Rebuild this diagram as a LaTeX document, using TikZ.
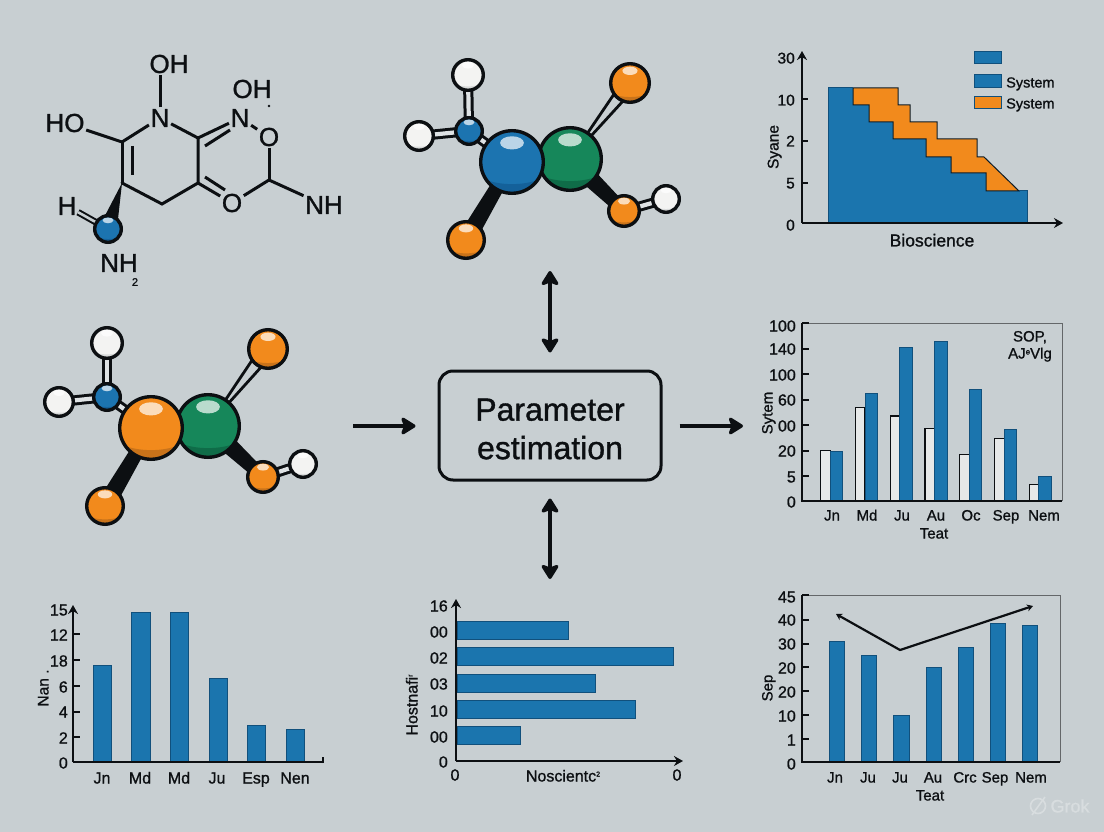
\documentclass[tikz,border=0pt]{standalone}
\usepackage{fontspec}
\setmainfont[RawFeature={embolden=1.1}]{Liberation Sans}
\usetikzlibrary{arrows.meta,calc}

\definecolor{bgcol}{HTML}{C8CFD2}
\definecolor{barblue}{HTML}{1B75AE}
\definecolor{barline}{HTML}{11507C}
\definecolor{ink}{HTML}{0C0F12}
\definecolor{ballblue}{HTML}{1C74B0}
\definecolor{ballblued}{HTML}{14619A}
\definecolor{ballorange}{HTML}{F28A1C}
\definecolor{ballorangd}{HTML}{C9731A}
\definecolor{ballgreen}{HTML}{16875A}
\definecolor{ballgreend}{HTML}{0F6C48}
\definecolor{ballwhite}{HTML}{F3F3F2}
\definecolor{ballwhited}{HTML}{D9DBDB}

\tikzset{
  atomtxt/.style={font=\fontsize{26}{28}\selectfont,text=ink,inner sep=1.5pt},
  bond/.style={draw=ink,line width=3pt},
  dbond/.style={draw=ink,line width=3pt,double=bgcol!60!white,double distance=4.2pt},
  ticklbl/.style={font=\fontsize{15.5}{17}\selectfont,text=ink,inner sep=0pt,text height=11pt,text depth=0pt},
  axislbl/.style={font=\fontsize{15.5}{17}\selectfont,text=ink,inner sep=0pt,text height=11pt,text depth=0pt},
  axisline/.style={draw=ink,line width=2.5pt},
  axisarrow/.style={draw=ink,line width=2.5pt,-{Stealth[length=9pt,width=10pt]}},
  framegrey/.style={draw=black!50!bgcol,line width=0.8pt},
  barfill/.style={fill=barblue,draw=barline,line width=1pt},
  flow/.style={draw=ink,line width=3.6pt,-{Stealth[length=17pt,width=21pt,inset=4pt,round]}},
  flowboth/.style={draw=ink,line width=3.6pt,{Stealth[length=17pt,width=21pt,inset=4pt,round]}-{Stealth[length=17pt,width=21pt,inset=4pt,round]}}
}

% atom: name, x, y, outer radius, colour, dark colour
\newcommand{\atom}[6]{
  \begin{scope}
    \clip (#2,#3) circle[radius=#4-1];
    \fill[#5] (#2,#3) circle[radius=#4];
    \fill[#6] (#2-1.2*#4,#3+0.15*#4) arc[start angle=180,end angle=0,x radius=1.2*#4,y radius=0.52*#4]
      -- (#2+1.2*#4,#3+1.2*#4) -- (#2-1.2*#4,#3+1.2*#4) -- cycle;
    \fill[white,opacity=0.7] (#2,#3-0.58*#4) ellipse[x radius=0.36*#4,y radius=0.2*#4];
  \end{scope}
  \node[circle,draw=ink,line width=3.4pt,minimum size=2*#4 pt-3.4pt,inner sep=0pt] (#1) at (#2,#3) {};
}
% thick bond: start, end, half width at start, half width at end
\newcommand{\wedgebond}[4]{
  \fill[ink] ($(#1)!#3!90:(#2)$) -- ($(#2)!#4!-90:(#1)$) -- ($(#2)!#4!90:(#1)$) -- ($(#1)!#3!-90:(#2)$) -- cycle;
}
% open bond that spreads out towards its end
\newcommand{\spreadbond}[3]{
  \filldraw[fill=bgcol,draw=ink,line width=2.8pt] (#1) -- ($(#2)!#3!-90:(#1)$) -- ($(#2)!#3!90:(#1)$) -- cycle;
}

\begin{document}
\begin{tikzpicture}[x=1pt,y=-1pt]
  \fill[bgcol] (0,0) rectangle (1104,832); %Background
  \useasboundingbox (0,0) rectangle (1104,832);

  % drawn formula, top left
  \node[atomtxt] (oha) at (169,64) {OH};
  \node[atomtxt] (na) at (160,118) {N};
  \node[atomtxt] (hoa) at (65,123) {HO};
  \node[atomtxt] (ohb) at (252,89) {OH};
  \node[atomtxt] (nb) at (240,118) {N};
  \node[atomtxt] (oa) at (269,137) {O};
  \node[atomtxt] (ob) at (232,203) {O};
  \node[atomtxt] (nh) at (324,205) {NH};
  \node[atomtxt] (ha) at (67,206) {H};
  \node[atomtxt] (nhb) at (119,263) {NH};
  \node[font=\fontsize{11}{12}\selectfont,text=ink,inner sep=0pt] (nhsub) at (135,282) {2};
  \coordinate (ca) at (122,142);
  \coordinate (cb) at (122,183);
  \coordinate (cc) at (162,204);
  \coordinate (cd) at (198,183);
  \coordinate (ce) at (198,138);
  \coordinate (cf) at (269,180);
  \coordinate (ballc) at (108,229);
  \draw[bond] (na.north) -- (na.north |- oha.south);
  \draw[bond] (hoa) -- (ca);
  \draw[bond] (na) -- (ca);
  \draw[bond] (na) -- (ce);
  \draw[bond,line cap=round] (ca) -- (cb);
  \draw[bond] (132,146) -- (132,175); %Inner line of ring double bond
  \draw[bond,line cap=round] (cb) -- (cc) -- (cd) -- (ce);
  \draw[bond] (ce) -- (nb);
  \draw[bond] (205,146) -- (230,130); %Inner line of N double bond
  \draw[bond] (cd) -- (ob);
  \draw[bond] (205,177) -- (225,190); %Inner line of O double bond
  \draw[bond] (ob) -- (cf);
  \draw[bond] (oa) -- (cf);
  \draw[bond] (cf) -- (nh);
  \draw[bond] (nb) -- (oa);
  \fill[ink] (269,106) circle[radius=1.3]; %Stray mark under OH
  \wedgebond{cb}{ballc}{0pt}{9pt}
  \draw[draw=ink,line width=2pt,double=bgcol,double distance=2.6pt] (ha) -- (ballc);
  \atom{ballf}{108}{229}{15}{ballblue}{ballblued}

  % ball model, top centre
  \coordinate (tmw) at (468,75);
  \coordinate (tlw) at (419,136);
  \coordinate (tsb) at (469,131);
  \coordinate (tbb) at (512,162);
  \coordinate (tbg) at (570,159);
  \coordinate (tor) at (630,83);
  \coordinate (tol) at (466,240);
  \coordinate (tob) at (624,211);
  \coordinate (twb) at (666,199);
  \draw[dbond] (tmw) -- (tsb);
  \draw[dbond] (tlw) -- (tsb);
  \draw[dbond] (tsb) -- (tbb);
  \spreadbond{tbg}{tor}{7pt}
  \draw[dbond] (tob) -- (twb);
  \wedgebond{tbb}{tol}{6pt}{9pt}
  \wedgebond{tbg}{tob}{10pt}{6pt}
  \atom{tmwb}{468}{75}{17}{ballwhite}{ballwhited}
  \atom{tlwb}{419}{136}{16}{ballwhite}{ballwhited}
  \atom{tsbb}{469}{131}{15}{ballblue}{ballblued}
  \atom{torb}{630}{83}{21}{ballorange}{ballorangd}
  \atom{tolb}{466}{240}{20}{ballorange}{ballorangd}
  \atom{twbb}{666}{199}{15}{ballwhite}{ballwhited}
  \atom{tobb}{624}{211}{17}{ballorange}{ballorangd}
  \atom{tbgb}{570}{159}{33}{ballgreen}{ballgreend}
  \atom{tbbb}{512}{162}{33}{ballblue}{ballblued}

  % ball model, middle left
  \coordinate (mmw) at (107,343);
  \coordinate (mlw) at (59,402);
  \coordinate (msb) at (107,397);
  \coordinate (mbo) at (151,428);
  \coordinate (mbg) at (208,426);
  \coordinate (mor) at (268,349);
  \coordinate (mol) at (105,506);
  \coordinate (mob) at (263,477);
  \coordinate (mwb) at (303,464);
  \draw[dbond] (mmw) -- (msb);
  \draw[dbond] (mlw) -- (msb);
  \draw[dbond] (msb) -- (mbo);
  \spreadbond{mbg}{mor}{7pt}
  \draw[dbond] (mob) -- (mwb);
  \wedgebond{mbo}{mol}{6pt}{9pt}
  \wedgebond{mbg}{mob}{10pt}{6pt}
  \atom{mmwb}{107}{343}{17}{ballwhite}{ballwhited}
  \atom{mlwb}{59}{402}{16}{ballwhite}{ballwhited}
  \atom{msbb}{107}{397}{15}{ballblue}{ballblued}
  \atom{morb}{268}{349}{21}{ballorange}{ballorangd}
  \atom{molb}{105}{506}{20}{ballorange}{ballorangd}
  \atom{mwbb}{303}{464}{15}{ballwhite}{ballwhited}
  \atom{mobb}{263}{477}{17}{ballorange}{ballorangd}
  \atom{mbgb}{208}{426}{33}{ballgreen}{ballgreend}
  \atom{mbob}{151}{428}{33}{ballorange}{ballorangd}

  % centre box and arrows
  \node[draw=ink,line width=3pt,rounded corners=14pt,minimum width=222pt,minimum height=109pt,inner sep=0pt] (param) at (550,425.5) {};
  \node[align=center,font=\fontsize{32}{38.5}\selectfont,text=ink,inner sep=0pt] (paramtxt) at (550,429) {Parameter\\estimation};
  \coordinate (leftend) at (353,426);
  \coordinate (rightend) at (743,426);
  \coordinate (upend) at (550,271);
  \coordinate (downend) at (550,579);
  \draw[flow,shorten >=22pt] (leftend) -- (param.west |- leftend);
  \draw[flow,shorten <=17pt] (param.east |- rightend) -- (rightend);
  \draw[flowboth,shorten >=17pt] (upend) -- (param.north);
  \draw[flowboth,shorten >=17pt] (downend) -- (param.south);

  % stepped area chart, top right
  \fill[barblue] (828,88) -- (853,88) -- (853,105) -- (869,105) -- (869,122) -- (893,122) -- (893,139) -- (926,139) -- (926,157) -- (951,157) -- (951,173) -- (986,173) -- (986,191) -- (1027,191) -- (1027,223) -- (828,223) -- cycle;
  \filldraw[fill=ballorange,draw=ink!80!barline,line width=1pt] (853,88) -- (898,88) -- (898,105) -- (910,105) -- (910,122) -- (937,122) -- (937,139) -- (977,139) -- (977,157) -- (984,157) -- (1019,191) -- (986,191) -- (986,173) -- (951,173) -- (951,157) -- (926,157) -- (926,139) -- (893,139) -- (893,122) -- (869,122) -- (869,105) -- (853,105) -- cycle;
  \draw[barline,line width=1pt] (828,223) -- (828,88) -- (853,88);
  \draw[barline,line width=1pt] (1019,191) -- (1027,191) -- (1027,223);
  \coordinate (tro) at (802,223);
  \coordinate (try) at (802,51);
  \coordinate (trx) at (1063,223);
  \draw[axisarrow] (tro) -- (try);
  \draw[axisarrow] (tro) -- (trx);
  \foreach \tname/\ty/\tlab in {tra/58/30,trb/100/10,trc/141/2,trd/183/5,tre/225/0}
    \node[ticklbl,anchor=east] (\tname) at (795,\ty) {\tlab};
  \foreach \ty in {99,141,183}
    \draw[axisline] (802,\ty) -- (808,\ty);
  \node[axislbl,font=\fontsize{17.5}{19}\selectfont] (trxlab) at (932,241) {Bioscience};
  \node[axislbl,rotate=90] (trylab) at (773,147) {Syane};
  \filldraw[fill=barblue,draw=barline,line width=1pt] (974,52) rectangle (1001,64);
  \filldraw[fill=barblue,draw=barline,line width=1pt] (974,75) rectangle (1001,88);
  \filldraw[fill=ballorange,draw=barline,line width=1pt] (974,97) rectangle (1001,109);
  \node[axislbl,anchor=west,font=\fontsize{14.5}{16}\selectfont] (legb) at (1006,82) {System};
  \node[axislbl,anchor=west,font=\fontsize{14.5}{16}\selectfont] (legc) at (1006,103) {System};

  % paired bars, middle right
  \draw[framegrey] (802,323) -- (1062,323) -- (1062,501);
  \foreach \bx/\wtop/\btop in {820.7/450.7/451,855.5/407.7/393.7,890.3/416/347,925/428.7/341.7,959.8/454.7/389,994.6/438.7/429.3,1029.4/484.7/476.7}{
    \filldraw[fill=ballwhite!70!bgcol,draw=ink,line width=1.1pt] (\bx,501) rectangle (\bx+9.5,\wtop);
    \filldraw[barfill] (\bx+9.5,501) rectangle (\bx+22,\btop);
  }
  \coordinate (mro) at (802,501);
  \coordinate (mry) at (802,323);
  \coordinate (mrx) at (1062,501);
  \draw[axisline] (mry) -- (mro) -- (mrx);
  \foreach \mname/\my/\mlab in {mra/326/100,mrb/349/140,mrc/375/100,mrd/400/60,mre/426/00,mrf/451/20,mrg/477/5,mrh/502/0}
    \node[ticklbl,anchor=east,font=\fontsize{16}{17}\selectfont] (\mname) at (796,\my) {\mlab};
  \foreach \my in {323,349,374,400,425,451,476}
    \draw[axisline] (802,\my) -- (809,\my);
  \foreach \mname/\mx/\mlab in {mja/832/Jn,mjb/867/Md,mjc/902/Ju,mjd/936/Au,mje/971/Oc,mjf/1006/Sep,mjg/1044/Nem}
    \node[axislbl,font=\fontsize{15}{17}\selectfont] (\mname) at (\mx,515) {\mlab};
  \node[axislbl,font=\fontsize{15}{17}\selectfont] (mrxlab) at (934,533) {Teat};
  \node[axislbl,rotate=90,font=\fontsize{15}{17}\selectfont] (mrylab) at (767,413) {Sytem};
  \node[axislbl,font=\fontsize{15}{17}\selectfont] (mrnote) at (1030,336) {SOP,};
  \node[axislbl,font=\fontsize{15}{17}\selectfont] (mrnoteb) at (1030,353) {AJ\raisebox{4pt}{\fontsize{8}{9}\selectfont e}Vlg};

  % bars, bottom left
  \foreach \bx/\btop in {93.3/665.7,131.8/612.3,170.3/612,209/678.3,247.5/725,286/729.3}
    \filldraw[barfill] (\bx,762) rectangle (\bx+18.3,\btop);
  \coordinate (blo) at (73,762);
  \coordinate (bly) at (73,605);
  \coordinate (blx) at (324,762);
  \draw[axisarrow] (blo) -- (bly);
  \draw[axisline] (blo) -- (blx);
  \draw[axisline] (323,763) -- (323,757);
  \foreach \lname/\ly/\llab in {bla/610/15,blb/635/12,blc/661/18,bld/687/6,ble/712/4,blf/738/2,blg/763/0}
    \node[ticklbl,anchor=east,font=\fontsize{16}{17}\selectfont] (\lname) at (68,\ly) {\llab};
  \foreach \ly in {634,660,686,712,737}
    \draw[axisline] (73,\ly) -- (80,\ly);
  \foreach \lname/\lx/\llab in {bja/102/Jn,bjb/140/Md,bjc/179/Md,bjd/217/Ju,bje/256/Esp,bjf/295/Nen}
    \node[axislbl,font=\fontsize{16}{17}\selectfont] (\lname) at (\lx,778) {\llab};
  \node[axislbl,rotate=90] (blylab) at (43,688) {Nan .};

  % horizontal bars, bottom centre
  \filldraw[barfill] (457,621) rectangle (568,639);
  \filldraw[barfill] (457,647.3) rectangle (673,665.7);
  \filldraw[barfill] (457,674) rectangle (595,692);
  \filldraw[barfill] (457,700.3) rectangle (635,718);
  \filldraw[barfill] (457,726.7) rectangle (520,744.7);
  \coordinate (bco) at (456,761);
  \coordinate (bcy) at (456,599);
  \coordinate (bcx) at (683,761);
  \draw[axisarrow] (bco) -- (bcy);
  \draw[axisarrow] (bco) -- (bcx);
  \foreach \cname/\cy/\clab in {bca/606/16,bcb/632/00,bcc/658/02,bcd/684/03,bce/711/10,bcf/737/00,bcg/762/0}
    \node[ticklbl,anchor=east,font=\fontsize{16}{17}\selectfont] (\cname) at (448,\cy) {\clab};
  \node[ticklbl,font=\fontsize{16}{17}\selectfont] (bch) at (455,775) {0};
  \node[ticklbl,font=\fontsize{16}{17}\selectfont] (bci) at (677,775) {0};
  \node[axislbl,font=\fontsize{16}{17}\selectfont] (bcxlab) at (563,776) {Noscientc\raisebox{5pt}{\fontsize{7}{8}\selectfont 2}};
  \node[axislbl,rotate=90,font=\fontsize{16}{17}\selectfont] (bcylab) at (412,705) {Hostnafi\raisebox{5pt}{\fontsize{7}{8}\selectfont r}};

  % bars and line, bottom right
  \draw[framegrey] (802,595) -- (1060,595) -- (1060,762);
  \foreach \bx/\btop in {829.3/641,861.3/655.7,893.7/715.3,926/667.7,958.3/647,990.3/623.7,1022.3/625.3}
    \filldraw[barfill] (\bx,762) rectangle (\bx+15.3,\btop);
  \coordinate (bro) at (802,762);
  \coordinate (bry) at (802,595);
  \coordinate (brx) at (1060,762);
  \draw[axisline] (bry) -- (bro) -- (brx);
  \foreach \rname/\ry/\rlab in {bra/597/45,brb/620/40,brc/644/30,brd/668/20,bre/692/20,brf/716/10,brg/740/1,brh/764/0}
    \node[ticklbl,anchor=east,font=\fontsize{16}{17}\selectfont] (\rname) at (796,\ry) {\rlab};
  \foreach \ry in {595,620,644,667,691,715,739}
    \draw[axisline] (802,\ry) -- (809,\ry);
  \foreach \rname/\rx/\rlab in {rja/835/Jn,rjb/868/Ju,rjc/900/Ju,rjd/933/Au,rje/965/Crc,rjf/995/Sep,rjg/1031/Nem}
    \node[axislbl,font=\fontsize{15}{17}\selectfont] (\rname) at (\rx,777) {\rlab};
  \node[axislbl,font=\fontsize{15}{17}\selectfont] (brxlab) at (930,795) {Teat};
  \node[axislbl,rotate=90,font=\fontsize{15}{17}\selectfont] (brylab) at (767,688) {Sep};
  \coordinate (lna) at (836,614);
  \coordinate (lnb) at (900,650);
  \coordinate (lnc) at (1033,606);
  \draw[draw=ink,line width=2.2pt,{Stealth[length=6pt,width=7pt]}-{Stealth[length=6pt,width=7pt]}] (lna) -- (lnb) -- (lnc);

  % watermark
  \node[font=\fontsize{18}{19}\selectfont,text=bgcol!70!white,inner sep=0pt] (grok) at (1070,806) {Grok};
  \draw[bgcol!70!white,line width=1.6pt] (1038,806) circle[radius=7.5];
  \draw[bgcol!70!white,line width=1.6pt] (1032,815) -- (1045,797);
\end{tikzpicture}
\end{document}
